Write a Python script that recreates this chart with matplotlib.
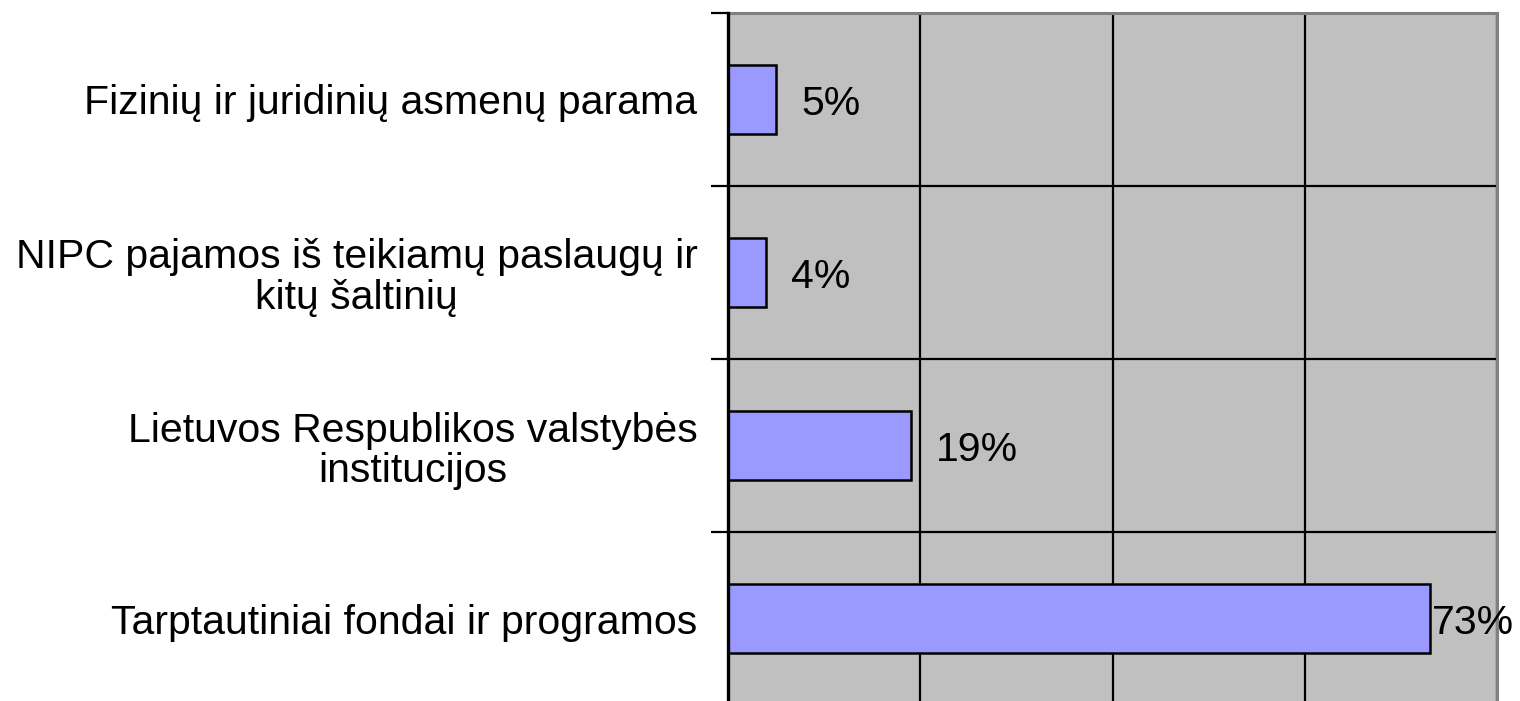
import matplotlib
matplotlib.use('Agg')
import matplotlib.pyplot as plt

plt.rcParams['font.family'] = ['Liberation Sans', 'DejaVu Sans']

kategorijos = ['Fizinių ir juridinių asmenų parama',
               'NIPC pajamos iš teikiamų paslaugų ir\nkitų šaltinių',
               'Lietuvos Respublikos valstybės\ninstitucijos',
               'Tarptautiniai fondai ir programos']
procentai = [5, 4, 19, 73]
x_ticks = [0, 20, 40, 60, 80]

fig = plt.figure(figsize=(15.2, 7.01), dpi=100)
ax = fig.add_axes([728 / 1520, -4 / 701, (1497 - 728) / 1520, (701 - 13 + 4) / 701])
ax.set_facecolor('#C0C0C0')

y = list(range(len(kategorijos)))
ax.barh(y, procentai, height=0.4, color='#9999FF', edgecolor='black', linewidth=1.8, zorder=3)

# procentu etiketes
for yi, v in zip(y, procentai):
    pad = 18 if v < 60 else 1.5
    ax.annotate(f'{v}%', xy=(v, yi), xytext=(pad, -3), textcoords='offset points',
                ha='left', va='center', fontsize=29.5, zorder=4)

ax.set_xlim(x_ticks[0], x_ticks[-1])
ax.set_ylim(len(kategorijos) - 0.5, -0.5)
ax.set_xticks(x_ticks)
ax.set_xticklabels([])
ax.tick_params(axis='x', length=0)
ax.grid(axis='x', color='black', linewidth=1.6, zorder=1)

ax.set_yticks(y)
ax.set_yticklabels(kategorijos, fontsize=29.5, multialignment='center', linespacing=1.08)
ax.tick_params(axis='y', which='major', length=0, pad=22)
ax.set_yticks([i + 0.5 for i in range(len(kategorijos))] + [-0.5], minor=True)
ax.tick_params(axis='y', which='minor', length=12, width=1.6, direction='out')
ax.grid(axis='y', which='minor', color='black', linewidth=1.6, zorder=1)

ax.spines['left'].set_linewidth(2.4)
ax.spines['left'].set_zorder(5)
for s in ['top', 'right']:
    ax.spines[s].set_color('#808080')
    ax.spines[s].set_linewidth(2.2)
ax.spines['bottom'].set_visible(False)

fig.savefig('out.png', dpi=100)
